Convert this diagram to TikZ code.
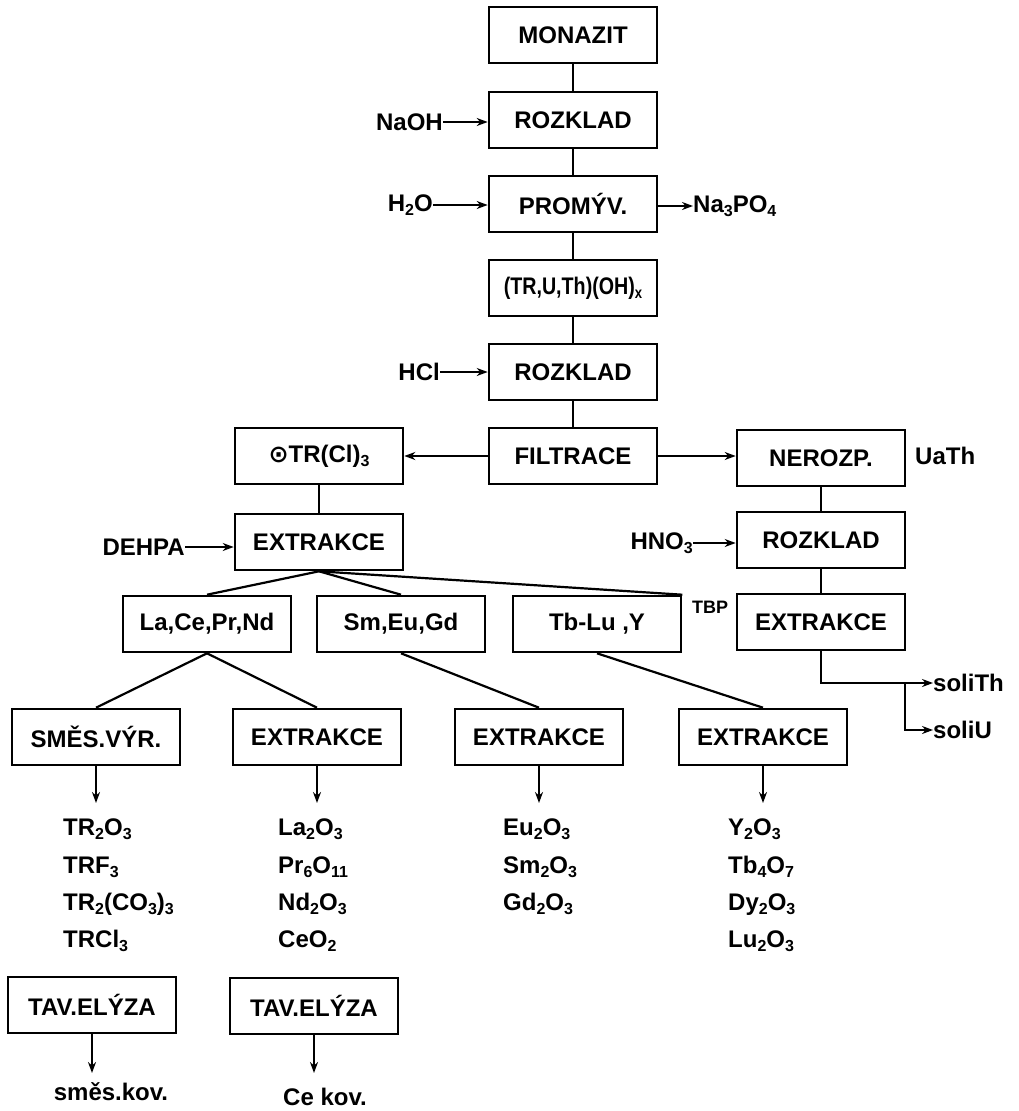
\documentclass[tikz,border=0pt]{standalone}
\usepackage{graphicx}
\usepackage{fontspec}
\setmainfont{Liberation Sans}
\newfontfamily\dejavu{DejaVu Sans}
\usetikzlibrary{arrows.meta}
\newcommand\chsub[1]{\raisebox{-0.35ex}{\fontsize{16}{16}\selectfont #1}}
\begin{document}
\begin{tikzpicture}[x=1pt,y=-1pt,
  box/.style={draw, line width=2.6pt, minimum width=168pt, minimum height=56pt, inner sep=2pt,
    font=\fontsize{24}{26}\selectfont\bfseries},
  lbl/.style={font=\fontsize{24}{26}\selectfont\bfseries, inner sep=0pt},
  conn/.style={line width=2.2pt},
  arr/.style={line width=2.2pt, -{Stealth[length=11pt,width=8pt]}}]
\fill[white] (0,0) rectangle (1018,1111);
\useasboundingbox (0,0) rectangle (1018,1111);
% main column
\node[box] (mon) at (573,35) {MONAZIT};
\node[box] (r1) at (573,120) {ROZKLAD};
\node[box] (prom) at (573,204) {PROMÝV.};
\node[box, inner sep=1pt] (truth) at (573,288) {\scalebox{0.82}[1]{(TR,U,Th)(OH)\chsub{x}}};
\node[box] (r2) at (573,372) {ROZKLAD};
\node[box] (filt) at (573,456) {FILTRACE};
% left branch
\node[box] (trcl) at (319,456) {{\dejavu ⊙}TR(Cl)\chsub{3}};
\node[box] (ex1) at (319,542) {EXTRAKCE};
% right branch
\node[box] (nero) at (821,458) {NEROZP.};
\node[box] (r3) at (821,540) {ROZKLAD};
\node[box] (exr) at (821,622) {EXTRAKCE};
% groups
\node[box] (la) at (207,624) {La,Ce,Pr,Nd};
\node[box] (sm) at (401,624) {Sm,Eu,Gd};
\node[box] (tb) at (597,624) {Tb-Lu ,Y};
% second level
\node[box] (smes) at (96,737) {SMĚS.VÝR.};
\node[box] (ex2) at (317,737) {EXTRAKCE};
\node[box] (ex3) at (539,737) {EXTRAKCE};
\node[box] (ex4) at (763,737) {EXTRAKCE};
% electrolysis
\node[box] (tav1) at (92,1005) {TAV.ELÝZA};
\node[box] (tav2) at (314,1006) {TAV.ELÝZA};
% side labels
\node[lbl, anchor=east] (naoh) at (443,122) {NaOH};
\node[lbl, anchor=east] (h2o) at (433,205) {H\chsub{2}O};
\node[lbl, anchor=west] (na3) at (693,206) {Na\chsub{3}PO\chsub{4}};
\node[lbl, anchor=east] (hcl) at (440,372) {HCl};
\node[lbl, anchor=east] (dehpa) at (185,547) {DEHPA};
\node[lbl, anchor=east] (hno3) at (693,543) {HNO\chsub{3}};
\node[lbl, anchor=west] (uath) at (915,456) {UaTh};
\node[lbl, anchor=center, font=\fontsize{18}{18}\selectfont\bfseries] (tbp) at (710,607) {TBP};
\node[lbl, anchor=west] (sth) at (933,683) {soliTh};
\node[lbl, anchor=west] (slu) at (933,730) {soliU};
% vertical main links
\draw[conn] (mon) -- (r1);
\draw[conn] (r1) -- (prom);
\draw[conn] (prom) -- (truth);
\draw[conn] (truth) -- (r2);
\draw[conn] (r2) -- (filt);
\draw[conn] (trcl) -- (ex1);
\draw[conn] (nero) -- (r3);
\draw[conn] (r3) -- (exr);
% input/output arrows
\draw[arr] (naoh.east) -- (naoh.east -| r1.west);
\draw[arr] (h2o.east) -- (h2o.east -| prom.west);
\draw[arr] (prom.east |- na3.west) -- (na3.west);
\draw[arr] (hcl.east) -- (hcl.east -| r2.west);
\draw[arr] (dehpa.east) -- (dehpa.east -| ex1.west);
\draw[arr] (hno3.east) -- (hno3.east -| r3.west);
\draw[arr] (filt.west) -- (trcl.east);
\draw[arr] (filt.east) -- (filt.east -| nero.west);
% extraction splits
\draw[conn] (ex1.south) -- (la.north);
\draw[conn] (ex1.south) -- (sm.north);
\draw[conn] (ex1.south) -- (tb.north east);
\draw[conn] (la.south) -- (smes.north);
\draw[conn] (la.south) -- (ex2.north);
\draw[conn] (sm.south) -- (ex3.north);
\draw[conn] (tb.south) -- (ex4.north);
% U/Th salts
\coordinate (br) at (905,683);
\draw[arr] (exr.south) |- (sth.west);
\draw[arr] (br) |- (slu.west);
% down arrows
\coordinate (d1) at (96,803);
\coordinate (d2) at (317,803);
\coordinate (d3) at (539,803);
\coordinate (d4) at (763,803);
\draw[arr] (smes.south) -- (d1);
\draw[arr] (ex2.south) -- (d2);
\draw[arr] (ex3.south) -- (d3);
\draw[arr] (ex4.south) -- (d4);
% product lists
\node[lbl, anchor=base west] (p11) at (63,835) {TR\chsub{2}O\chsub{3}};
\node[lbl, anchor=base west] (p12) at (63,873) {TRF\chsub{3}};
\node[lbl, anchor=base west] (p13) at (63,910) {TR\chsub{2}(CO\chsub{3})\chsub{3}};
\node[lbl, anchor=base west] (p14) at (63,947) {TRCl\chsub{3}};
\node[lbl, anchor=base west] (p21) at (278,835) {La\chsub{2}O\chsub{3}};
\node[lbl, anchor=base west] (p22) at (278,873) {Pr\chsub{6}O\chsub{11}};
\node[lbl, anchor=base west] (p23) at (278,910) {Nd\chsub{2}O\chsub{3}};
\node[lbl, anchor=base west] (p24) at (278,947) {CeO\chsub{2}};
\node[lbl, anchor=base west] (p31) at (503,835) {Eu\chsub{2}O\chsub{3}};
\node[lbl, anchor=base west] (p32) at (503,873) {Sm\chsub{2}O\chsub{3}};
\node[lbl, anchor=base west] (p33) at (503,910) {Gd\chsub{2}O\chsub{3}};
\node[lbl, anchor=base west] (p41) at (728,835) {Y\chsub{2}O\chsub{3}};
\node[lbl, anchor=base west] (p42) at (728,873) {Tb\chsub{4}O\chsub{7}};
\node[lbl, anchor=base west] (p43) at (728,910) {Dy\chsub{2}O\chsub{3}};
\node[lbl, anchor=base west] (p44) at (728,947) {Lu\chsub{2}O\chsub{3}};
% metals
\coordinate (d5) at (92,1073);
\coordinate (d6) at (314,1073);
\draw[arr] (tav1.south) -- (d5);
\draw[arr] (tav2.south) -- (d6);
\node[lbl] (smk) at (111,1092) {směs.kov.};
\node[lbl] (cek) at (325,1097) {Ce kov.};
\end{tikzpicture}
\end{document}
